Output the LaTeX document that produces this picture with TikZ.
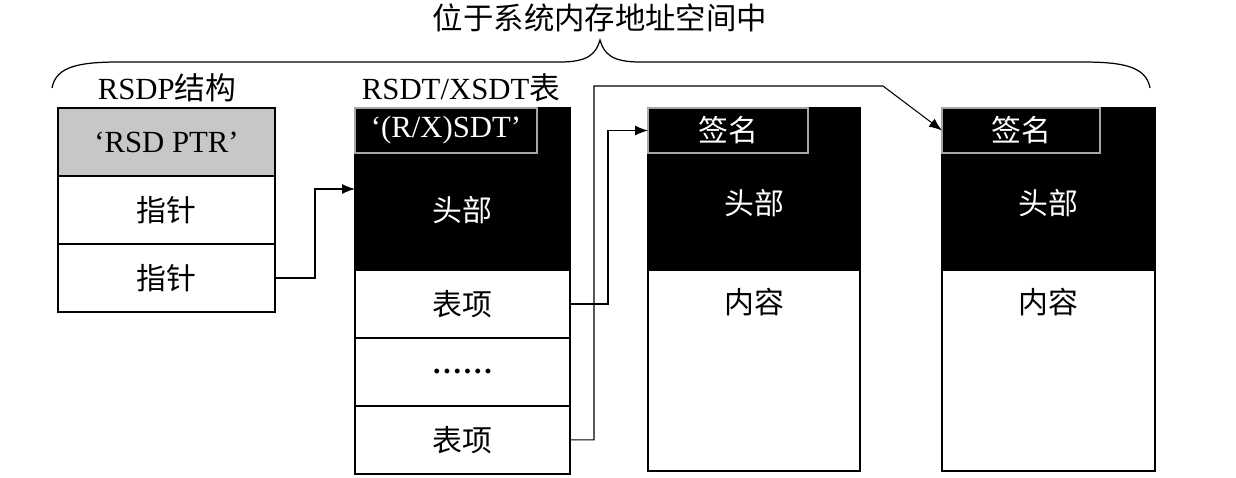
\documentclass[tikz,border=0pt]{standalone}
\usepackage{fontspec}
\setmainfont{Liberation Serif}
\newfontfamily\cjk{Noto Sans CJK SC}
\usetikzlibrary{arrows.meta, positioning}

\begin{document}
\begin{tikzpicture}[x=0.02cm, y=-0.02cm,
    cell/.style={draw, line width=0.9pt, outer sep=0pt, inner sep=0pt, minimum height=1.36cm, font=\fontsize{17}{20}\selectfont},
    headbox/.style={draw, fill=black, line width=0.9pt, outer sep=0pt, inner sep=0pt, minimum height=3.24cm},
    sigbox/.style={draw=black!35, fill=black, text=white, line width=0.9pt, outer sep=0pt, inner sep=0pt, minimum height=0.9cm, font=\fontsize{17.5}{20}\selectfont},
    bodybox/.style={draw, line width=0.9pt, outer sep=0pt, inner sep=0pt, minimum height=4.02cm},
    headtext/.style={text=white, font=\cjk\fontsize{17}{20}\selectfont},
    celltext/.style={font=\cjk\fontsize{17}{20}\selectfont},
    lbl/.style={font=\fontsize{17.5}{20}\selectfont},
    conn/.style={line width=0.6pt, -{Latex[length=2.6mm, width=2mm]}}]
    \useasboundingbox (0,0) rectangle (1236,477);

    % title and brace
    \node[font=\cjk\fontsize{17.3}{20}\selectfont] (title) at (600,18) {位于系统内存地址空间中};
    \draw[line width=0.7pt] (52,88) .. controls (56,66) and (80,62) .. (120,62) -- (560,62)
        .. controls (588,62) and (596,54) .. (600,40) .. controls (604,54) and (612,62) .. (640,62)
        -- (1082,62) .. controls (1122,62) and (1146,66) .. (1150,88);

    % RSDP
    \node[lbl] (rsdplbl) at (167,88) {RSDP{\cjk 结构}};
    \node[cell, fill=black!22, minimum width=4.34cm, font=\fontsize{17.5}{20}\selectfont] (rsdpsig) at (166.5,142) {‘RSD PTR’};
    \node[cell, minimum width=4.34cm, below=0pt of rsdpsig] (ptr1) {\cjk 指针};
    \node[cell, minimum width=4.34cm, below=0pt of ptr1] (ptr2) {\cjk 指针};

    % RSDT/XSDT
    \node[lbl] (rsdtlbl) at (461,88) {RSDT/XSDT{\cjk 表}};
    \node[headbox, minimum width=4.30cm] (rsdthead) at (462.5,189) {};
    \node[sigbox, minimum width=3.64cm, anchor=north west] (rsdtsig) at (rsdthead.north west) {‘(R/X)SDT’};
    \node[headtext] (rsdthdtext) at (462.5,210) {头部};
    \node[cell, minimum width=4.30cm, below=0pt of rsdthead] (ent1) {\cjk 表项};
    \node[cell, minimum width=4.30cm, below=0pt of ent1] (dots) {\bfseries .\kern1.6pt.\kern1.6pt.\kern1.6pt.\kern1.6pt.\kern1.6pt.};
    \node[cell, minimum width=4.30cm, below=0pt of dots] (ent2) {\cjk 表项};

    % first table
    \node[headbox, minimum width=4.24cm] (t2head) at (754,189) {};
    \node[sigbox, minimum width=3.2cm, anchor=north west, font=\cjk\fontsize{17}{20}\selectfont] (t2sig) at (t2head.north west) {签名};
    \node[headtext] (t2hdtext) at (754,203) {头部};
    \node[bodybox, minimum width=4.24cm, below=0pt of t2head] (t2body) {};
    \node[celltext] (t2cont) at (754,302) {内容};

    % second table
    \node[headbox, minimum width=4.26cm] (t3head) at (1048.5,189) {};
    \node[sigbox, minimum width=3.16cm, anchor=north west, font=\cjk\fontsize{17}{20}\selectfont] (t3sig) at (t3head.north west) {签名};
    \node[headtext] (t3hdtext) at (1048.5,203) {头部};
    \node[bodybox, minimum width=4.26cm, below=0pt of t3head] (t3body) {};
    \node[celltext] (t3cont) at (1048.5,302) {内容};

    % pointers
    \coordinate (bend) at (883,86);
    \draw[conn] (ptr2.east) -- ++(40,0) |- (rsdthead.west);
    \draw[conn] (ent1.east) -- ++(38,0) |- (t2sig.west);
    \draw[conn] (ent2.east) -- ++(24,0) |- (bend) -- (t3sig.west);
\end{tikzpicture}
\end{document}
